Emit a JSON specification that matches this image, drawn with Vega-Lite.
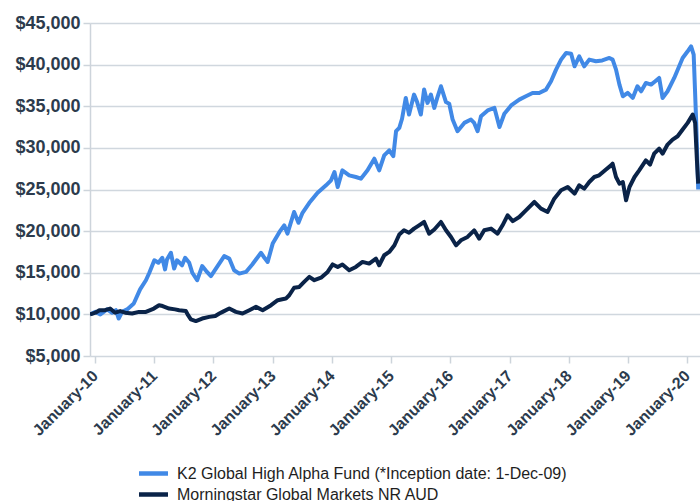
{
  "$schema": "https://vega.github.io/schema/vega-lite/v6.json",
  "width": 610,
  "height": 333,
  "autosize": {"type": "none"},
  "padding": {"left": 90, "top": 23, "right": 0, "bottom": 145},
  "background": "white",
  "config": {
    "font": "Liberation Sans",
    "view": {"stroke": null}
  },
  "data": {
    "values": [
      {"d":"2009-12-01","s":"K2","v":10000},{"d":"2010-01-03","s":"K2","v":10300},{"d":"2010-02-03","s":"K2","v":10000},{"d":"2010-03-16","s":"K2","v":10600},{"d":"2010-04-16","s":"K2","v":10200},{"d":"2010-05-10","s":"K2","v":10500},{"d":"2010-05-27","s":"K2","v":9500},{"d":"2010-06-17","s":"K2","v":10300},{"d":"2010-07-18","s":"K2","v":10600},{"d":"2010-08-28","s":"K2","v":11300},{"d":"2010-10-06","s":"K2","v":13000},{"d":"2010-11-11","s":"K2","v":14100},{"d":"2010-12-02","s":"K2","v":15000},
      {"d":"2011-01-02","s":"K2","v":16500},{"d":"2011-01-27","s":"K2","v":16200},{"d":"2011-02-20","s":"K2","v":16800},{"d":"2011-03-09","s":"K2","v":15400},{"d":"2011-03-21","s":"K2","v":16600},{"d":"2011-04-14","s":"K2","v":17400},{"d":"2011-05-04","s":"K2","v":15500},{"d":"2011-05-22","s":"K2","v":16500},{"d":"2011-06-22","s":"K2","v":15900},{"d":"2011-07-11","s":"K2","v":16800},{"d":"2011-08-05","s":"K2","v":16200},{"d":"2011-08-24","s":"K2","v":15000},{"d":"2011-09-23","s":"K2","v":14100},{"d":"2011-10-24","s":"K2","v":15800},{"d":"2011-11-18","s":"K2","v":15200},{"d":"2011-12-17","s":"K2","v":14600},
      {"d":"2012-01-27","s":"K2","v":15800},{"d":"2012-03-08","s":"K2","v":17000},{"d":"2012-04-08","s":"K2","v":16700},{"d":"2012-05-08","s":"K2","v":15300},{"d":"2012-06-09","s":"K2","v":14900},{"d":"2012-07-20","s":"K2","v":15100},{"d":"2012-08-28","s":"K2","v":16000},{"d":"2012-10-21","s":"K2","v":17400},{"d":"2012-11-11","s":"K2","v":16800},{"d":"2012-12-01","s":"K2","v":16300},
      {"d":"2013-01-01","s":"K2","v":18500},{"d":"2013-02-12","s":"K2","v":19900},{"d":"2013-03-13","s":"K2","v":20700},{"d":"2013-04-02","s":"K2","v":19700},{"d":"2013-05-13","s":"K2","v":22300},{"d":"2013-06-09","s":"K2","v":21000},{"d":"2013-07-04","s":"K2","v":22200},{"d":"2013-08-15","s":"K2","v":23400},{"d":"2013-10-05","s":"K2","v":24600},{"d":"2013-11-26","s":"K2","v":25500},{"d":"2013-12-27","s":"K2","v":26100},
      {"d":"2014-01-17","s":"K2","v":27100},{"d":"2014-02-06","s":"K2","v":25300},{"d":"2014-03-07","s":"K2","v":27300},{"d":"2014-04-18","s":"K2","v":26700},{"d":"2014-05-29","s":"K2","v":26500},{"d":"2014-06-29","s":"K2","v":26300},{"d":"2014-08-09","s":"K2","v":27300},{"d":"2014-09-20","s":"K2","v":28700},{"d":"2014-10-20","s":"K2","v":27300},{"d":"2014-11-20","s":"K2","v":29100},{"d":"2014-12-21","s":"K2","v":29700},
      {"d":"2015-01-15","s":"K2","v":29000},{"d":"2015-02-01","s":"K2","v":32000},{"d":"2015-02-21","s":"K2","v":32400},{"d":"2015-03-10","s":"K2","v":33500},{"d":"2015-04-02","s":"K2","v":36000},{"d":"2015-04-22","s":"K2","v":34000},{"d":"2015-05-23","s":"K2","v":36400},{"d":"2015-06-11","s":"K2","v":35500},{"d":"2015-07-04","s":"K2","v":34000},{"d":"2015-07-24","s":"K2","v":37000},{"d":"2015-08-14","s":"K2","v":35400},{"d":"2015-09-04","s":"K2","v":36400},{"d":"2015-09-25","s":"K2","v":34800},{"d":"2015-10-13","s":"K2","v":36000},{"d":"2015-11-05","s":"K2","v":37400},{"d":"2015-12-06","s":"K2","v":35500},{"d":"2015-12-26","s":"K2","v":35300},
      {"d":"2016-01-16","s":"K2","v":33400},{"d":"2016-02-15","s":"K2","v":32000},{"d":"2016-03-28","s":"K2","v":33000},{"d":"2016-05-08","s":"K2","v":33400},{"d":"2016-05-28","s":"K2","v":33000},{"d":"2016-06-18","s":"K2","v":32000},{"d":"2016-07-09","s":"K2","v":33800},{"d":"2016-08-19","s":"K2","v":34500},{"d":"2016-09-30","s":"K2","v":34800},{"d":"2016-10-31","s":"K2","v":32500},{"d":"2016-11-30","s":"K2","v":34100},
      {"d":"2017-01-11","s":"K2","v":35100},{"d":"2017-03-02","s":"K2","v":35800},{"d":"2017-04-12","s":"K2","v":36200},{"d":"2017-05-23","s":"K2","v":36600},{"d":"2017-07-03","s":"K2","v":36600},{"d":"2017-08-14","s":"K2","v":37000},{"d":"2017-09-14","s":"K2","v":38000},{"d":"2017-10-15","s":"K2","v":39400},{"d":"2017-11-15","s":"K2","v":40600},{"d":"2017-12-16","s":"K2","v":41400},
      {"d":"2018-01-16","s":"K2","v":41300},{"d":"2018-02-06","s":"K2","v":39800},{"d":"2018-03-07","s":"K2","v":41000},{"d":"2018-04-07","s":"K2","v":39800},{"d":"2018-05-08","s":"K2","v":40600},{"d":"2018-06-18","s":"K2","v":40400},{"d":"2018-07-27","s":"K2","v":40500},{"d":"2018-09-09","s":"K2","v":40800},{"d":"2018-09-29","s":"K2","v":40600},{"d":"2018-10-20","s":"K2","v":39400},{"d":"2018-11-10","s":"K2","v":37600},{"d":"2018-12-01","s":"K2","v":36200},{"d":"2018-12-31","s":"K2","v":36600},
      {"d":"2019-01-31","s":"K2","v":36000},{"d":"2019-03-01","s":"K2","v":37400},{"d":"2019-03-24","s":"K2","v":36800},{"d":"2019-04-22","s":"K2","v":37800},{"d":"2019-05-24","s":"K2","v":37600},{"d":"2019-06-19","s":"K2","v":38000},{"d":"2019-07-13","s":"K2","v":38400},{"d":"2019-08-03","s":"K2","v":36000},{"d":"2019-09-03","s":"K2","v":36800},{"d":"2019-10-14","s":"K2","v":38400},{"d":"2019-12-05","s":"K2","v":40800},
      {"d":"2020-01-05","s":"K2","v":41600},{"d":"2020-01-26","s":"K2","v":42200},{"d":"2020-02-11","s":"K2","v":41200},{"d":"2020-02-26","s":"K2","v":33400},{"d":"2020-03-10","s":"K2","v":25000},

      {"d":"2009-12-01","s":"MS","v":10000},{"d":"2009-12-17","s":"MS","v":10100},{"d":"2010-01-03","s":"MS","v":10200},{"d":"2010-01-28","s":"MS","v":10500},{"d":"2010-03-04","s":"MS","v":10500},{"d":"2010-04-04","s":"MS","v":10700},{"d":"2010-05-05","s":"MS","v":10200},{"d":"2010-06-05","s":"MS","v":10400},{"d":"2010-07-06","s":"MS","v":10200},{"d":"2010-08-18","s":"MS","v":10100},{"d":"2010-09-29","s":"MS","v":10300},{"d":"2010-11-11","s":"MS","v":10300},{"d":"2010-12-30","s":"MS","v":10700},
      {"d":"2011-01-31","s":"MS","v":11100},{"d":"2011-02-22","s":"MS","v":11000},{"d":"2011-04-03","s":"MS","v":10700},{"d":"2011-05-10","s":"MS","v":10600},{"d":"2011-06-04","s":"MS","v":10500},{"d":"2011-07-15","s":"MS","v":10400},{"d":"2011-07-29","s":"MS","v":9900},{"d":"2011-08-15","s":"MS","v":9400},{"d":"2011-09-15","s":"MS","v":9200},{"d":"2011-10-24","s":"MS","v":9500},{"d":"2011-12-06","s":"MS","v":9700},
      {"d":"2012-01-13","s":"MS","v":9800},{"d":"2012-02-07","s":"MS","v":10100},{"d":"2012-02-27","s":"MS","v":10300},{"d":"2012-04-08","s":"MS","v":10700},{"d":"2012-05-19","s":"MS","v":10300},{"d":"2012-06-29","s":"MS","v":10100},{"d":"2012-08-10","s":"MS","v":10500},{"d":"2012-09-20","s":"MS","v":10900},{"d":"2012-10-31","s":"MS","v":10500},{"d":"2012-12-22","s":"MS","v":11100},
      {"d":"2013-02-01","s":"MS","v":11700},{"d":"2013-03-23","s":"MS","v":11900},{"d":"2013-04-13","s":"MS","v":12300},{"d":"2013-05-13","s":"MS","v":13200},{"d":"2013-06-14","s":"MS","v":13300},{"d":"2013-07-14","s":"MS","v":13900},{"d":"2013-08-15","s":"MS","v":14500},{"d":"2013-09-15","s":"MS","v":14100},{"d":"2013-10-26","s":"MS","v":14400},{"d":"2013-12-06","s":"MS","v":15100},
      {"d":"2014-01-06","s":"MS","v":16000},{"d":"2014-02-06","s":"MS","v":15700},{"d":"2014-03-07","s":"MS","v":16000},{"d":"2014-04-18","s":"MS","v":15300},{"d":"2014-05-29","s":"MS","v":15700},{"d":"2014-07-09","s":"MS","v":16300},{"d":"2014-08-19","s":"MS","v":16100},{"d":"2014-09-30","s":"MS","v":16700},{"d":"2014-10-20","s":"MS","v":15900},{"d":"2014-11-20","s":"MS","v":17100},{"d":"2014-12-21","s":"MS","v":17500},
      {"d":"2015-01-22","s":"MS","v":18300},{"d":"2015-02-21","s":"MS","v":19600},{"d":"2015-03-22","s":"MS","v":20100},{"d":"2015-04-22","s":"MS","v":19800},{"d":"2015-05-23","s":"MS","v":20300},{"d":"2015-06-23","s":"MS","v":20700},{"d":"2015-07-24","s":"MS","v":21100},{"d":"2015-08-24","s":"MS","v":19700},{"d":"2015-09-25","s":"MS","v":20200},{"d":"2015-11-05","s":"MS","v":21100},{"d":"2015-12-06","s":"MS","v":20100},
      {"d":"2016-01-06","s":"MS","v":19300},{"d":"2016-02-06","s":"MS","v":18300},{"d":"2016-03-07","s":"MS","v":18900},{"d":"2016-04-17","s":"MS","v":19300},{"d":"2016-05-28","s":"MS","v":20100},{"d":"2016-06-28","s":"MS","v":19100},{"d":"2016-07-29","s":"MS","v":20100},{"d":"2016-09-09","s":"MS","v":20300},{"d":"2016-10-19","s":"MS","v":19700},{"d":"2016-11-19","s":"MS","v":20700},{"d":"2016-12-20","s":"MS","v":21900},
      {"d":"2017-01-21","s":"MS","v":21200},{"d":"2017-03-02","s":"MS","v":21700},{"d":"2017-04-12","s":"MS","v":22500},{"d":"2017-06-03","s":"MS","v":23500},{"d":"2017-07-14","s":"MS","v":22700},{"d":"2017-08-24","s":"MS","v":22300},{"d":"2017-10-04","s":"MS","v":23900},{"d":"2017-11-15","s":"MS","v":24900},{"d":"2017-12-26","s":"MS","v":25300},
      {"d":"2018-02-06","s":"MS","v":24500},{"d":"2018-03-07","s":"MS","v":25500},{"d":"2018-04-07","s":"MS","v":25100},{"d":"2018-05-08","s":"MS","v":25900},{"d":"2018-06-08","s":"MS","v":26500},{"d":"2018-07-08","s":"MS","v":26700},{"d":"2018-08-19","s":"MS","v":27400},{"d":"2018-09-19","s":"MS","v":27900},{"d":"2018-09-29","s":"MS","v":28100},{"d":"2018-10-20","s":"MS","v":26500},{"d":"2018-11-10","s":"MS","v":25700},{"d":"2018-12-01","s":"MS","v":25900},{"d":"2018-12-21","s":"MS","v":23700},
      {"d":"2019-01-11","s":"MS","v":25300},{"d":"2019-02-11","s":"MS","v":26500},{"d":"2019-03-12","s":"MS","v":27300},{"d":"2019-04-22","s":"MS","v":28500},{"d":"2019-05-18","s":"MS","v":28000},{"d":"2019-06-12","s":"MS","v":29300},{"d":"2019-07-13","s":"MS","v":29900},{"d":"2019-08-03","s":"MS","v":29300},{"d":"2019-09-03","s":"MS","v":30400},{"d":"2019-10-04","s":"MS","v":31000},{"d":"2019-11-04","s":"MS","v":31400},{"d":"2019-12-05","s":"MS","v":32200},
      {"d":"2020-01-05","s":"MS","v":33000},{"d":"2020-02-05","s":"MS","v":34000},{"d":"2020-02-20","s":"MS","v":33000},{"d":"2020-03-02","s":"MS","v":28500},{"d":"2020-03-10","s":"MS","v":25700}
    ]
  },
  "mark": {"type": "line", "strokeWidth": 4, "strokeJoin": "round", "clip": true},
  "encoding": {
    "x": {
      "field": "d",
      "type": "temporal",
      "scale": {"domain": [{"year": 2009, "month": 12, "date": 1}, {"year": 2020, "month": 3, "date": 21}]},
      "axis": {
        "title": null,
        "values": [
          {"year": 2010, "month": 1, "date": 1}, {"year": 2011, "month": 1, "date": 1}, {"year": 2012, "month": 1, "date": 1},
          {"year": 2013, "month": 1, "date": 1}, {"year": 2014, "month": 1, "date": 1}, {"year": 2015, "month": 1, "date": 1},
          {"year": 2016, "month": 1, "date": 1}, {"year": 2017, "month": 1, "date": 1}, {"year": 2018, "month": 1, "date": 1},
          {"year": 2019, "month": 1, "date": 1}, {"year": 2020, "month": 1, "date": 1}
        ],
        "format": "%B-%y",
        "labelAngle": -45,
        "labelAlign": "right",
        "labelBaseline": "middle",
        "labelFontSize": 16,
        "labelFontWeight": "bold",
        "labelColor": "#2c3b4d",
        "labelPadding": 10,
        "labelOverlap": false,
        "labelFlush": false,
        "grid": false,
        "domain": false,
        "ticks": true,
        "tickSize": 7,
        "tickWidth": 1.5,
        "tickColor": "#cdd4db"
      }
    },
    "y": {
      "field": "v",
      "type": "quantitative",
      "scale": {"domain": [5000, 45000], "nice": false, "zero": false},
      "axis": {
        "title": null,
        "values": [5000, 10000, 15000, 20000, 25000, 30000, 35000, 40000, 45000],
        "format": "$,.0f",
        "labelFontSize": 18,
        "labelFontWeight": "bold",
        "labelColor": "#2c3b4d",
        "labelPadding": 3,
        "grid": true,
        "gridColor": "#d0d7de",
        "gridWidth": 1.5,
        "domain": true,
        "domainColor": "#cdd4db",
        "domainWidth": 1.5,
        "tickSize": 7,
        "tickWidth": 1.5,
        "tickColor": "#cdd4db"
      }
    },
    "color": {
      "field": "s",
      "type": "nominal",
      "scale": {"domain": ["K2", "MS"], "range": ["#4189e6", "#0a2348"]},
      "legend": {
        "title": null,
        "orient": "none",
        "legendX": 54,
        "legendY": 441,
        "direction": "vertical",
        "symbolType": "M-2,0L2,0",
        "symbolSize": 210,
        "symbolStrokeWidth": 4.5,
        "labelFontSize": 16,
        "labelLimit": 0,
        "labelColor": "#1e1e1e",
        "labelOffset": 14,
        "rowPadding": 2,
        "labelExpr": "datum.label == 'K2' ? 'K2 Global High Alpha Fund (*Inception date: 1-Dec-09)' : 'Morningstar Global Markets NR AUD'"
      }
    }
  }
}
